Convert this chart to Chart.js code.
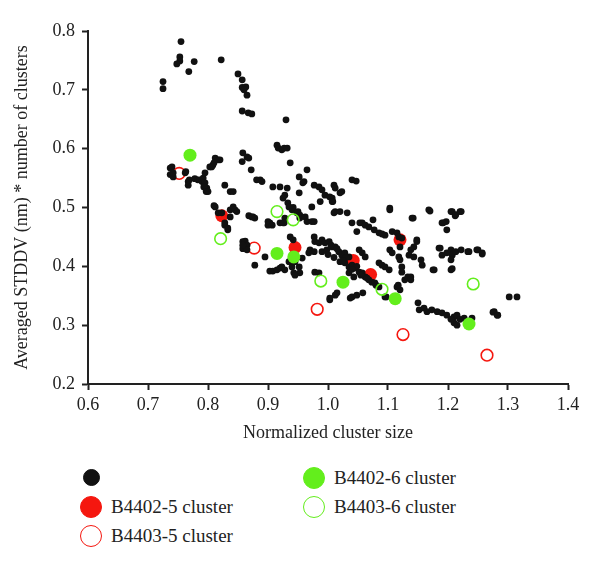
<!DOCTYPE html>
<html>
<head>
<meta charset="utf-8">
<script src="https://cdn.jsdelivr.net/npm/chart.js@4.4.1/dist/chart.umd.min.js"></script>
<style>
body { margin: 0; background: #fff; font-family: "Liberation Serif", serif; }
#wrap { position: relative; width: 600px; height: 455px; }
#legend { position: relative; width: 600px; height: 115px; }
.item { position: absolute; display: flex; align-items: center; font-size: 19px; color: #222; }
.dot { width: 22px; height: 22px; border-radius: 50%; box-sizing: border-box; margin-right: 9px; }
</style>
</head>
<body>
<div id="wrap"><canvas id="chart" width="600" height="455"></canvas></div>
<div id="legend"></div>
<script>
// background clusters (black dots)
const blackX = [
  0.725,0.725,0.755,0.753,0.753,0.748,0.777,0.768,0.822,
  0.850,0.857,0.857,0.863,0.860,0.865,0.857,0.867,0.873,
  0.930,0.915,0.917,0.923,0.927,0.932,0.937,
  0.858,0.857,0.865,0.868,0.872,0.887,0.890,0.881,0.908,0.920,0.925,
  0.965,0.952,0.960,0.977,0.985,0.990,1.010,1.012,1.023,1.040,1.047,0.952,0.995,1.007,1.003,1.008,1.020,0.958,0.932,0.928,0.933,0.942,0.950,
  0.737,0.737,0.742,0.740,0.742,0.762,0.763,0.767,0.767,0.769,0.778,0.783,0.790,0.787,0.792,0.795,0.795,0.798,0.793,0.797,0.800,0.803,0.806,0.808,0.812,0.820,0.817,0.810,0.828,0.837,0.842,
  0.810,0.812,0.817,0.823,0.837,0.842,0.845,0.848,0.837,0.828,0.828,0.833,0.833,0.868,0.873,0.878,0.875,0.900,0.900,0.903,0.907,0.920,0.928,0.925,0.927,
  0.858,0.862,0.858,0.865,0.865,0.858,
  0.878,0.895,0.903,0.908,0.915,0.920,0.923,0.928,0.940,0.952,0.953,0.943,0.935,0.945,0.957,0.945,0.945,0.937,0.942,
  0.935,0.940,0.948,0.953,0.953,0.962,0.965,0.973,0.977,0.973,0.987,1.007,1.010,1.012,1.020,1.032,
  1.040,1.053,1.057,1.048,1.068,1.075,1.077,1.085,1.095,1.103,1.103,1.107,1.115,1.118,1.123,1.062,1.090,
  0.977,0.978,0.985,0.990,0.995,1.002,1.007,1.012,0.970,0.977,0.968,0.990,0.998,1.018,1.023,1.028,1.035,1.020,1.028,1.035,1.040,1.045,1.052,1.057,1.062,1.068,1.073,1.078,1.085,1.052,1.057,1.062,1.035,1.043,0.978,0.985,1.005,1.015,1.030,1.048,1.000,1.010,1.025,1.040,1.055,1.065,1.080,
  1.085,1.090,1.095,1.102,1.103,1.107,1.118,1.120,1.123,1.123,1.120,1.115,1.120,1.117,1.128,1.133,
  1.003,1.003,1.012,1.015,1.037,1.040,1.048,1.058,1.095,1.097,
  1.168,1.170,1.205,1.207,1.212,1.213,1.220,1.222,1.190,1.197,1.192,1.198,1.140,1.142,1.148,1.148,1.143,1.138,1.135,1.143,1.155,1.157,1.185,1.187,1.190,1.198,1.205,1.207,1.213,1.222,1.233,1.235,1.248,1.250,1.257,1.257,1.205,1.177,1.175,1.205,1.207,1.138,1.138,
  1.302,1.315,
  1.150,1.152,1.160,1.165,1.173,1.182,1.190,1.198,1.210,1.210,1.215,1.215,1.227,1.240,1.220,1.205,
  1.277,1.282,1.275,1.283
];
const blackY = [
  0.714,0.702,0.782,0.756,0.749,0.744,0.748,0.731,0.751,
  0.727,0.717,0.704,0.705,0.700,0.691,0.664,0.661,0.659,
  0.649,0.606,0.601,0.598,0.601,0.601,0.576,
  0.593,0.578,0.586,0.584,0.564,0.547,0.544,0.547,0.535,0.535,0.516,
  0.564,0.552,0.544,0.538,0.535,0.530,0.538,0.533,0.527,0.547,0.545,0.525,0.521,0.516,0.518,0.510,0.525,0.542,0.533,0.521,0.508,0.500,0.493,
  0.567,0.556,0.552,0.569,0.559,0.559,0.561,0.544,0.538,0.547,0.549,0.547,0.544,0.547,0.550,0.559,0.542,0.533,0.535,0.527,0.527,0.569,0.569,0.572,0.584,0.581,0.581,0.576,0.538,0.527,0.527,
  0.503,0.501,0.491,0.491,0.496,0.501,0.496,0.493,0.484,0.470,0.474,0.462,0.465,0.486,0.484,0.482,0.484,0.476,0.470,0.474,0.470,0.474,0.482,0.474,0.474,
  0.442,0.443,0.430,0.436,0.428,0.436,
  0.402,0.416,0.392,0.392,0.394,0.397,0.399,0.394,0.399,0.399,0.389,0.389,0.408,0.411,0.414,0.408,0.385,0.450,0.445,
  0.501,0.496,0.491,0.482,0.487,0.484,0.476,0.476,0.476,0.501,0.510,0.510,0.491,0.493,0.493,0.491,
  0.474,0.474,0.474,0.459,0.467,0.479,0.462,0.457,0.453,0.499,0.496,0.459,0.457,0.450,0.448,0.470,0.455,
  0.450,0.442,0.440,0.445,0.440,0.442,0.433,0.433,0.428,0.425,0.423,0.425,0.428,0.425,0.419,0.423,0.416,0.408,0.406,0.399,0.402,0.397,0.390,0.389,0.382,0.377,0.373,0.372,0.365,0.428,0.423,0.416,0.389,0.382,0.390,0.389,0.436,0.430,0.415,0.400,0.420,0.415,0.410,0.395,0.385,0.380,0.368,
  0.406,0.402,0.399,0.394,0.428,0.423,0.416,0.411,0.399,0.390,0.433,0.365,0.360,0.368,0.377,0.382,
  0.343,0.346,0.351,0.355,0.346,0.348,0.351,0.355,0.348,0.348,
  0.496,0.494,0.493,0.493,0.486,0.488,0.493,0.493,0.474,0.476,0.474,0.462,0.482,0.482,0.445,0.442,0.433,0.428,0.419,0.416,0.411,0.402,0.431,0.431,0.419,0.423,0.428,0.419,0.425,0.428,0.425,0.425,0.428,0.428,0.423,0.421,0.411,0.394,0.394,0.394,0.396,0.382,0.377,
  0.348,0.348,
  0.338,0.326,0.329,0.323,0.326,0.323,0.321,0.317,0.314,0.304,0.317,0.300,0.312,0.312,0.310,0.310,
  0.323,0.317,0.322,0.317
];

const b4402_5X = [0.823, 0.945, 1.042, 1.071, 1.120];
const b4402_5Y = [0.486, 0.432, 0.410, 0.386, 0.445];
const b4403_5X = [0.752, 0.877, 0.982, 1.125, 1.265];
const b4403_5Y = [0.558, 0.431, 0.327, 0.284, 0.249];
const b4402_6X = [0.770, 0.915, 0.943, 1.025, 1.112, 1.235];
const b4402_6Y = [0.589, 0.422, 0.416, 0.373, 0.345, 0.302];
const b4403_6X = [0.821, 0.915, 0.942, 0.988, 1.090, 1.242];
const b4403_6Y = [0.447, 0.493, 0.479, 0.375, 0.361, 0.370];

const legendLabels = ['', 'B4402-5 cluster', 'B4403-5 cluster', 'B4402-6 cluster', 'B4403-6 cluster'];

const RED = '#f5170f';
const GREEN = '#63ee1c';

function pts(xs, ys) {
  return xs.map((x, i) => ({ x: x, y: ys[i] }));
}

const serif = '"Liberation Serif", serif';

new Chart(document.getElementById('chart'), {
  type: 'scatter',
  data: {
    datasets: [
      { label: legendLabels[3], data: pts(b4402_6X, b4402_6Y), backgroundColor: GREEN, borderColor: GREEN, pointRadius: 6.5, borderWidth: 0, order: 1 },
      { label: legendLabels[4], data: pts(b4403_6X, b4403_6Y), backgroundColor: 'rgba(0,0,0,0)', borderColor: GREEN, pointRadius: 5.8, borderWidth: 1.6, order: 2 },
      { label: 'all', data: pts(blackX, blackY), backgroundColor: '#111', borderColor: '#111', pointRadius: 3.4, borderWidth: 0, order: 3 },
      { label: legendLabels[2], data: pts(b4403_5X, b4403_5Y), backgroundColor: 'rgba(0,0,0,0)', borderColor: RED, pointRadius: 5.8, borderWidth: 1.6, order: 4 },
      { label: legendLabels[1], data: pts(b4402_5X, b4402_5Y), backgroundColor: RED, borderColor: RED, pointRadius: 6.5, borderWidth: 0, order: 5 }
    ]
  },
  options: {
    responsive: false,
    animation: false,
    layout: { padding: { top: 31, right: 32, left: 0, bottom: 0 } },
    plugins: { legend: { display: false }, tooltip: { enabled: false } },
    scales: {
      x: {
        type: 'linear', min: 0.6, max: 1.4,
        afterFit: function (s) { s.height = 71; },
        border: { color: '#222', width: 2 },
        grid: { drawOnChartArea: false, drawTicks: true, tickLength: 6, color: '#222', tickWidth: 2 },
        ticks: { stepSize: 0.1, padding: 4, color: '#222', font: { family: serif, size: 18 },
          callback: function (v) { return v.toFixed(1); } },
        title: { display: true, text: 'Normalized cluster size', color: '#222',
          font: { family: serif, size: 18 }, padding: { top: 0, bottom: 11 } }
      },
      y: {
        type: 'linear', min: 0.2, max: 0.8,
        afterFit: function (s) { s.width = 88; },
        border: { color: '#222', width: 2 },
        grid: { drawOnChartArea: false, drawTicks: true, tickLength: 6, color: '#222', tickWidth: 2 },
        ticks: { stepSize: 0.1, padding: 7, color: '#222', font: { family: serif, size: 18 },
          callback: function (v) { return v.toFixed(1); } },
        title: { display: true, text: 'Averaged STDDV (nm) * number of clusters', color: '#222',
          font: { family: serif, size: 18 }, padding: { top: 11, bottom: 0 } }
      }
    }
  }
});

// legend below the plot, two columns
const legendStyles = [
  { fill: '#111', stroke: '#111', left: 80, top: 12, size: 17 },
  { fill: RED, stroke: RED, left: 80, top: 41 },
  { fill: '#fff', stroke: RED, left: 80, top: 70 },
  { fill: GREEN, stroke: GREEN, left: 303, top: 12 },
  { fill: '#fff', stroke: GREEN, left: 303, top: 41 }
];
const legendEl = document.getElementById('legend');
legendLabels.forEach(function (lbl, i) {
  const st = legendStyles[i];
  const item = document.createElement('div');
  item.className = 'item';
  item.style.left = st.left + 'px';
  item.style.top = st.top + 'px';
  const dot = document.createElement('div');
  dot.className = 'dot';
  dot.style.background = st.fill;
  dot.style.border = '1.6px solid ' + st.stroke;
  if (st.size) {
    dot.style.width = st.size + 'px';
    dot.style.height = st.size + 'px';
    dot.style.margin = '2px 11px 2px 3px';
  }
  item.appendChild(dot);
  const span = document.createElement('span');
  span.textContent = lbl;
  item.appendChild(span);
  legendEl.appendChild(item);
});
</script>
</body>
</html>
